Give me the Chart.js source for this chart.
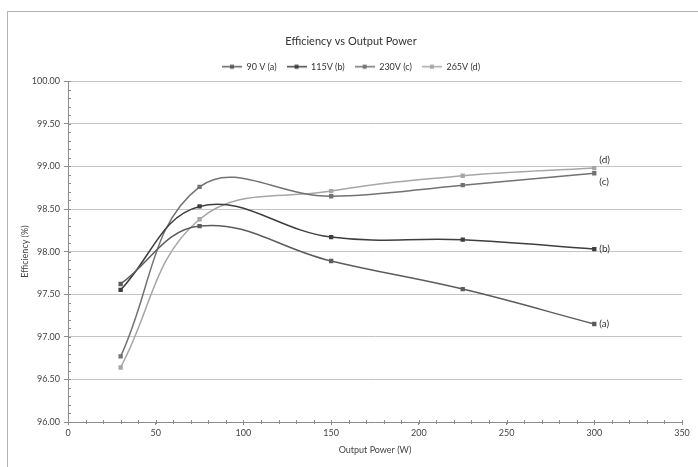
<!DOCTYPE html>
<html>
<head>
<meta charset="utf-8">
<title>Efficiency vs Output Power</title>
<script src="https://cdn.jsdelivr.net/npm/chart.js@4"></script>
<style>
    html, body { margin: 0; padding: 0; background: #fff; }
    #wrap { width: 698px; height: 467px; }
</style>
</head>
<body>
<div id="wrap"><canvas id="effChart"></canvas></div>
<script>
// Data
const powerW = [30, 75, 150, 225, 300];
const eff90V = [97.62, 98.30, 97.89, 97.56, 97.15];
const eff115V = [97.55, 98.53, 98.17, 98.14, 98.03];
const eff230V = [96.77, 98.76, 98.65, 98.78, 98.92];
const eff265V = [96.64, 98.38, 98.71, 98.89, 98.98];

const seriesNames = ['90 V (a)', '115V (b)', '230V (c)', '265V (d)'];
const endTags = ['(a)', '(b)', '(c)', '(d)'];
const seriesColors = ['#5c5c5c', '#3e3e3e', '#727272', '#a6a6a6'];
const tagOffsets = [0, 0, 9, -8];

const xMin = 0, xMax = 350, xStep = 50, xMinor = 10;
const yMin = 96, yMax = 100, yStep = 0.5, yMinor = 0.1;

const FONT = "Lato, 'Open Sans', sans-serif";

function toPoints(ys) {
    return powerW.map((x, i) => ({ x: x, y: ys[i] }));
}

// small line-with-dot icon for legend entries
function legendIcon(color) {
    const c = document.createElement('canvas');
    c.width = 20; c.height = 7;
    const g = c.getContext('2d');
    g.strokeStyle = color;
    g.lineWidth = 1.5;
    g.beginPath(); g.moveTo(0, 3.5); g.lineTo(20, 3.5); g.stroke();
    g.fillStyle = color;
    g.fillRect(8, 1.5, 4, 4);
    return c;
}

const allSeries = [eff90V, eff115V, eff230V, eff265V];

const datasets = allSeries.map((ys, i) => ({
    label: seriesNames[i],
    data: toPoints(ys),
    borderColor: seriesColors[i],
    backgroundColor: seriesColors[i],
    borderWidth: 1.5,
    pointStyle: 'rect',
    pointRadius: 2,
    tension: 0.4,
    fill: false
}));

// chart frame + white background
const framePlugin = {
    id: 'frame',
    beforeDraw(chart) {
        const ctx = chart.ctx;
        ctx.save();
        ctx.fillStyle = '#fff';
        ctx.fillRect(0, 0, chart.width, chart.height);
        ctx.strokeStyle = '#b4b4b4';
        ctx.lineWidth = 1;
        ctx.strokeRect(7.5, 11.5, chart.width, chart.height);
        ctx.restore();
    }
};

// Excel-like minor tick marks on both axes
const minorTicksPlugin = {
    id: 'minorTicks',
    afterDraw(chart) {
        const ctx = chart.ctx;
        const xs = chart.scales.x, ys = chart.scales.y;
        const area = chart.chartArea;
        ctx.save();
        ctx.strokeStyle = '#8c8c8c';
        ctx.lineWidth = 1;
        ctx.beginPath();
        for (let v = xMin; v <= xMax + 1e-9; v += xMinor) {
            const px = Math.round(xs.getPixelForValue(v)) + 0.5;
            ctx.moveTo(px, area.bottom - 2);
            ctx.lineTo(px, area.bottom + 2);
        }
        for (let k = 0; k <= Math.round((yMax - yMin) / yMinor); k++) {
            const py = Math.round(ys.getPixelForValue(yMin + k * yMinor)) + 0.5;
            ctx.moveTo(area.left, py);
            ctx.lineTo(area.left + 3, py);
        }
        ctx.stroke();
        ctx.restore();
    }
};

// (a)..(d) tags next to the last point of each curve
const endTagPlugin = {
    id: 'endTags',
    afterDatasetsDraw(chart) {
        const ctx = chart.ctx;
        ctx.save();
        ctx.font = '10px ' + FONT;
        ctx.fillStyle = '#333';
        ctx.textAlign = 'left';
        ctx.textBaseline = 'middle';
        chart.data.datasets.forEach((ds, i) => {
            const meta = chart.getDatasetMeta(i);
            const last = meta.data[meta.data.length - 1];
            ctx.fillText(endTags[i], last.x + 5, last.y + tagOffsets[i]);
        });
        ctx.restore();
    }
};

new Chart(document.getElementById('effChart'), {
    type: 'line',
    data: { datasets: datasets },
    options: {
        responsive: true,
        maintainAspectRatio: false,
        animation: false,
        layout: { padding: { top: 35, right: 16, left: 20, bottom: 0 } },
        plugins: {
            title: {
                display: true,
                text: 'Efficiency vs Output Power',
                color: '#333',
                font: { family: FONT, size: 11, weight: 'normal' },
                padding: { top: 0, bottom: 4 }
            },
            legend: {
                display: true,
                position: 'top',
                labels: {
                    color: '#333',
                    font: { family: FONT, size: 9 },
                    usePointStyle: true,
                    pointStyleWidth: 20,
                    boxHeight: 7,
                    padding: 10,
                    generateLabels(chart) {
                        return chart.data.datasets.map((ds, i) => ({
                            text: ds.label,
                            fillStyle: ds.borderColor,
                            strokeStyle: ds.borderColor,
                            pointStyle: legendIcon(ds.borderColor),
                            lineWidth: 0,
                            hidden: false,
                            datasetIndex: i,
                            fontColor: '#333'
                        }));
                    }
                }
            },
            tooltip: { enabled: false }
        },
        scales: {
            x: {
                type: 'linear',
                min: xMin,
                max: xMax,
                afterFit(scale) { scale.height = 45; },
                ticks: {
                    stepSize: xStep,
                    color: '#444',
                    font: { family: FONT, size: 9 },
                    padding: 3
                },
                grid: {
                    drawOnChartArea: false,
                    drawTicks: true,
                    tickLength: 3,
                    tickColor: '#8c8c8c'
                },
                border: { color: '#8c8c8c', width: 1 },
                title: {
                    display: true,
                    text: 'Output Power (W)',
                    color: '#444',
                    font: { family: FONT, size: 9 },
                    padding: { top: 0, bottom: 12 }
                }
            },
            y: {
                min: yMin,
                max: yMax,
                afterFit(scale) { scale.width = 48; },
                ticks: {
                    stepSize: yStep,
                    color: '#444',
                    font: { family: FONT, size: 9 },
                    padding: 4,
                    callback: v => Number(v).toFixed(2)
                },
                grid: {
                    color: '#c4c4c4',
                    lineWidth: 1,
                    drawTicks: true,
                    tickLength: 4,
                    tickColor: '#8c8c8c'
                },
                border: { color: '#8c8c8c', width: 1 },
                title: {
                    display: true,
                    text: 'Efficiency (%)',
                    color: '#444',
                    font: { family: FONT, size: 9 },
                    padding: { top: 0, bottom: 0 }
                }
            }
        }
    },
    plugins: [framePlugin, minorTicksPlugin, endTagPlugin]
});
</script>
</body>
</html>
